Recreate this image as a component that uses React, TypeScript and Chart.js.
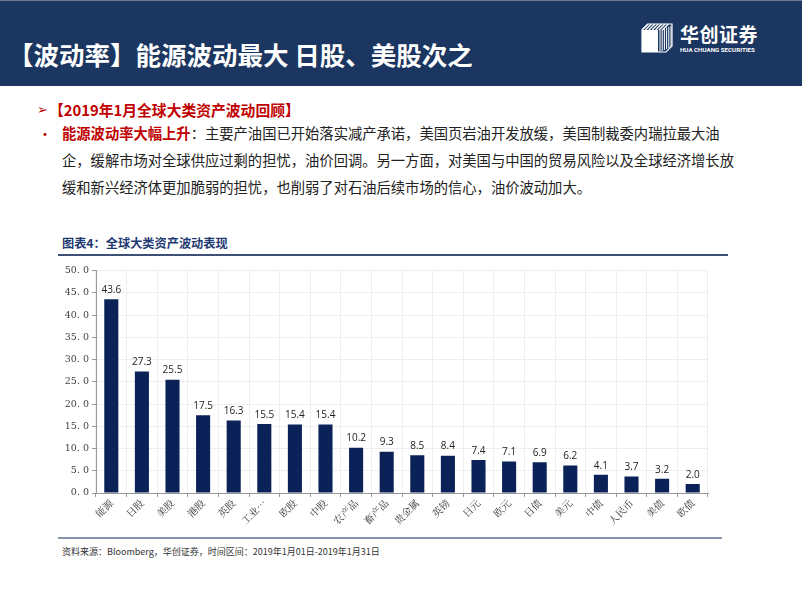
import React, { useEffect, useRef } from "react";
import { Chart, registerables } from "chart.js";

Chart.register(...registerables);

const categories = [
  "能源", "日股", "美股", "港股", "英股", "工业金属", "欧股", "中股", "农产品", "畜产品",
  "贵金属", "英镑", "日元", "欧元", "日债", "美元", "中债", "人民币", "美债", "欧债",
];
const volatility = [43.6, 27.3, 25.5, 17.5, 16.3, 15.5, 15.4, 15.4, 10.2, 9.3, 8.5, 8.4, 7.4, 7.1, 6.9, 6.2, 4.1, 3.7, 3.2, 2.0];
const yTicks = [0, 5, 10, 15, 20, 25, 30, 35, 40, 45, 50];

const NAVY_BAR = "#0b2258";
const HEADER = "#1b3660";
const CJK = '"Noto Sans CJK SC", "Noto Sans", sans-serif';

const valueLabels = {
  id: "valueLabels",
  afterDatasetsDraw(chart: any) {
    const ctx = chart.ctx;
    const meta = chart.getDatasetMeta(0);
    ctx.save();
    ctx.font = '10px "Open Sans", "DejaVu Sans", sans-serif';
    ctx.fillStyle = "#222";
    ctx.textAlign = "center";
    ctx.textBaseline = "bottom";
    meta.data.forEach((bar: any, i: number) => {
      const v = chart.data.datasets[0].data[i] as number;
      ctx.fillText(v.toFixed(1), bar.x, bar.y - 4);
    });
    ctx.restore();
  },
};

function BarChart() {
  const ref = useRef<HTMLCanvasElement>(null);
  useEffect(() => {
    if (!ref.current) return;
    const chart = new Chart(ref.current, {
      type: "bar",
      data: {
        labels: categories,
        datasets: [
          {
            data: volatility,
            backgroundColor: NAVY_BAR,
            borderWidth: 0,
            barPercentage: 0.46,
            categoryPercentage: 1,
          },
        ],
      },
      options: {
        animation: false,
        responsive: false,
        maintainAspectRatio: false,
        layout: { padding: { top: 8, right: 20, left: 0, bottom: 0 } },
        plugins: { legend: { display: false }, tooltip: { enabled: false } },
        scales: {
          x: {
            offset: true,
            grid: {
              offset: true,
              color: "#eeeeee",
              drawTicks: true,
              tickLength: 4,
              tickColor: "#999",
            },
            border: { color: "#999", width: 1 },
            afterFit: (s: any) => {
              s.height = 44;
            },
            ticks: {
              autoSkip: false,
              minRotation: 45,
              maxRotation: 45,
              padding: 0,
              color: "#333",
              font: { family: '"Noto Serif CJK SC", "Noto Sans CJK SC", serif', size: 10 },
              callback: function (this: any, v: any) {
                const l = this.getLabelForValue(v) as string;
                return l.length > 3 ? l.slice(0, 2) + "…" : l;
              },
            },
          },
          y: {
            min: 0,
            max: 50,
            afterFit: (s: any) => {
              s.width = 38;
            },
            afterBuildTicks: (s: any) => {
              s.ticks = yTicks.map((v) => ({ value: v }));
            },
            grid: { color: "#eeeeee", tickLength: 4, tickColor: "#999" },
            border: { color: "#999", width: 1 },
            ticks: {
              padding: 3,
              color: "#444",
              font: { family: '"DejaVu Serif", "Liberation Serif", serif', size: 9.5 },
              callback: (v: any) => Number(v).toFixed(1).replace(".", ". "),
            },
          },
        },
      },
      plugins: [valueLabels],
    });
    return () => chart.destroy();
  }, []);
  return <canvas ref={ref} width={670} height={275} style={{ position: "absolute", left: 58, top: 262 }} />;
}

function Logo() {
  return (
    <div style={{ position: "absolute", left: 640, top: 20, width: 130, height: 36 }}>
      <svg width="34" height="34" viewBox="0 0 34 34" style={{ position: "absolute", left: 0, top: 0 }}>
        <polygon points="8,4 32,4 32,26 26,32 2,32 2,10" fill="none" stroke="#fff" strokeWidth="1.2" />
        {[0, 1, 2, 3, 4, 5, 6].map((i) => (
          <line key={i} x1={8 + i * 3.4} y1={4} x2={2 + i * 3.4} y2={10} stroke="#fff" strokeWidth="1.4" />
        ))}
        <rect x="2" y="10" width="16" height="22" fill="#fff" />
        {[0, 1, 2, 3, 4, 5].map((i) => (
          <line key={"v" + i} x1={20 + i * 2.2} y1={10 - (i * 0.8)} x2={20 + i * 2.2} y2={32 - i} stroke="#fff" strokeWidth="1" />
        ))}
      </svg>
      <div style={{ position: "absolute", left: 40, top: 2, color: "#fff", fontFamily: CJK, fontWeight: 700, fontSize: 19, lineHeight: "24px", letterSpacing: 0.5 }}>
        华创证券
      </div>
      <div style={{ position: "absolute", left: 40, top: 26, color: "#fff", fontFamily: '"Roboto", "DejaVu Sans", sans-serif', fontWeight: 700, fontSize: 6.2, lineHeight: "8px", whiteSpace: "nowrap" }}>
        HUA CHUANG SECURITIES
      </div>
    </div>
  );
}

export default function App() {
  const body: React.CSSProperties = {
    position: "absolute",
    left: 62,
    fontFamily: CJK,
    fontSize: 14.3,
    color: "#222",
    whiteSpace: "nowrap",
    lineHeight: "20px",
  };
  return (
    <div style={{ position: "fixed", left: 0, top: 0, width: 802, height: 602, background: "#fff", overflow: "hidden" }}>
      <div style={{ position: "absolute", left: 0, top: 0, width: 802, height: 86, background: HEADER, borderTop: "1px solid #6d7a8c", boxSizing: "border-box" }} />
      <div style={{ position: "absolute", left: 8, top: 37, color: "#fff", fontFamily: CJK, fontWeight: 700, fontSize: 25.5, lineHeight: "34px", whiteSpace: "nowrap" }}>
        【波动率】能源波动最大 日股、美股次之
      </div>
      <Logo />

      <div style={{ position: "absolute", left: 37, top: 100, color: "#c00000", fontSize: 13, lineHeight: "20px", fontFamily: '"DejaVu Sans", sans-serif' }}>➢</div>
      <div style={{ position: "absolute", left: 49, top: 100, color: "#c00000", fontFamily: CJK, fontWeight: 700, fontSize: 14.8, lineHeight: "20px", whiteSpace: "nowrap" }}>
        【2019年1月全球大类资产波动回顾】
      </div>
      <div style={{ position: "absolute", left: 38, top: 123, color: "#c00000", fontSize: 14, lineHeight: "20px", fontFamily: CJK }}>•</div>
      <div style={{ ...body, top: 123 }}>
        <span style={{ color: "#c00000", fontWeight: 700 }}>能源波动率大幅上升</span>
        ：主要产油国已开始落实减产承诺，美国页岩油开发放缓，美国制裁委内瑞拉最大油
      </div>
      <div style={{ ...body, top: 150 }}>企，缓解市场对全球供应过剩的担忧，油价回调。另一方面，对美国与中国的贸易风险以及全球经济增长放</div>
      <div style={{ ...body, top: 177 }}>缓和新兴经济体更加脆弱的担忧，也削弱了对石油后续市场的信心，油价波动加大。</div>

      <div style={{ position: "absolute", left: 62, top: 234, color: "#1f3a72", fontFamily: CJK, fontWeight: 700, fontSize: 12.2, lineHeight: "18px", whiteSpace: "nowrap" }}>
        图表4：全球大类资产波动表现
      </div>
      <div style={{ position: "absolute", left: 58, top: 254, width: 670, height: 2, background: "#3f5078" }} />

      <BarChart />

      <div style={{ position: "absolute", left: 58, top: 537, width: 664, height: 2, background: "#8593ad" }} />
      <div style={{ position: "absolute", left: 62, top: 545, color: "#333", fontFamily: CJK, fontSize: 9, lineHeight: "14px", whiteSpace: "nowrap" }}>
        资料来源：Bloomberg，华创证券，时间区间：2019年1月01日-2019年1月31日
      </div>
    </div>
  );
}
